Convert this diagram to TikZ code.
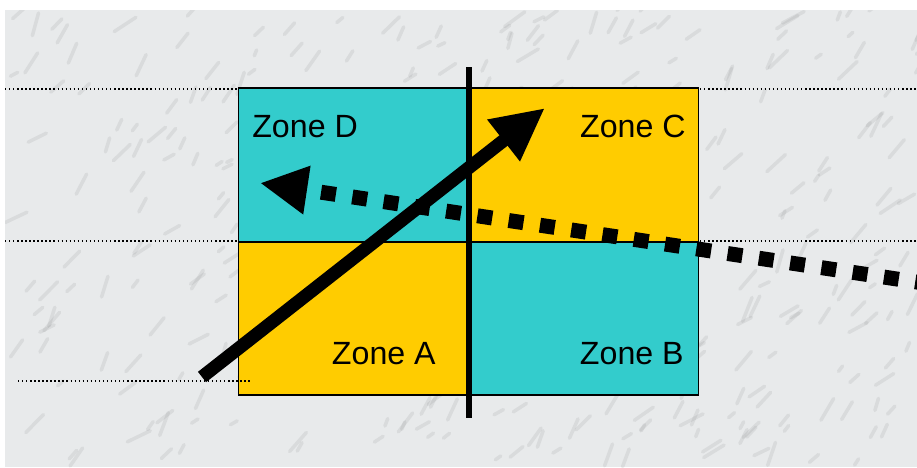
\documentclass[tikz,border=0pt]{standalone}
\usepackage{fontspec}
\setmainfont{Liberation Sans}
\usetikzlibrary{arrows.meta, positioning}
\definecolor{zoneCyan}{HTML}{33CCCC}
\definecolor{zoneYellow}{HTML}{FFCC00}
\definecolor{marbleBase}{HTML}{E8EAEB}
\definecolor{veinGray}{HTML}{8C8E90}

\begin{document}
\begin{tikzpicture}[
    x=0.02cm, y=-0.02cm,
    zone/.style={rectangle, draw=black, line width=1.1pt, fill=#1,
                 minimum width=4.6cm, minimum height=3.07cm,
                 inner sep=0pt, outer sep=0pt},
    zlabel/.style={font=\fontsize{18.3}{21}\selectfont, inner sep=0pt},
    guide/.style={line width=0.8pt, dash pattern=on 0.8pt off 1.5pt},
    vein/.style={veinGray, line width=2pt, opacity=0.16, line cap=round},
    bold arrow/.style={line width=7.5pt, -{Triangle[length=30pt, width=28pt]}},
    dash arrow/.style={line width=8.5pt, dash pattern=on 8.5pt off 9.5pt,
                       -{Triangle[length=27pt, width=26pt]}},
  ]
    \useasboundingbox (0,0) rectangle (917,467);

    % marble background
    \begin{scope}
      \clip (5,10) rectangle (917,467);
      \fill[marbleBase] (5,10) rectangle (917,467);
      \pgfmathsetseed{17}
      \foreach \i in {1,...,340}{
        \pgfmathsetmacro\px{5+912*rnd}
        \pgfmathsetmacro\py{10+457*rnd}
        \pgfmathsetmacro\ang{-75+50*rnd}
        \pgfmathsetmacro\len{6+20*rnd}
        \draw[vein] (\px,\py) -- ++(\ang:\len);
      }
    \end{scope}

    % guide lines
    \draw[guide] (5,89) -- (917,89);
    \draw[guide] (5,241) -- (917,241);

    % zones
    \node[zone=zoneCyan]   (zoneD) at (353.5,165) {};
    \node[zone=zoneYellow] (zoneC) at (583.5,165) {};
    \node[zone=zoneYellow] (zoneA) at (353.5,318.5) {};
    \node[zone=zoneCyan]   (zoneB) at (583.5,318.5) {};

    \draw[guide] (18,381) -- (250,381);

    \node[zlabel, anchor=base west] (labD) at (252,137) {Zone D};
    \node[zlabel, anchor=base east] (labC) at (686,137) {Zone C};
    \node[zlabel, anchor=base east] (labA) at (436,364) {Zone A};
    \node[zlabel, anchor=base east] (labB) at (684,364) {Zone B};

    % divider
    \coordinate (divTop) at (469,67);
    \coordinate (divBot) at (469,418);
    \draw[line width=3.4pt] (divTop) -- (divBot);

    % arrows
    \coordinate (moveFrom) at (202,377);
    \coordinate (moveTo) at (545,108);
    \draw[bold arrow] (moveFrom) -- (moveTo);

    \coordinate (driftFrom) at (930,284);
    \coordinate (driftTo) at (260,183);
    \begin{scope}
      \clip (5,10) rectangle (917,467);
      \draw[dash arrow] (driftFrom) -- (driftTo);
    \end{scope}
  \end{tikzpicture}
\end{document}
